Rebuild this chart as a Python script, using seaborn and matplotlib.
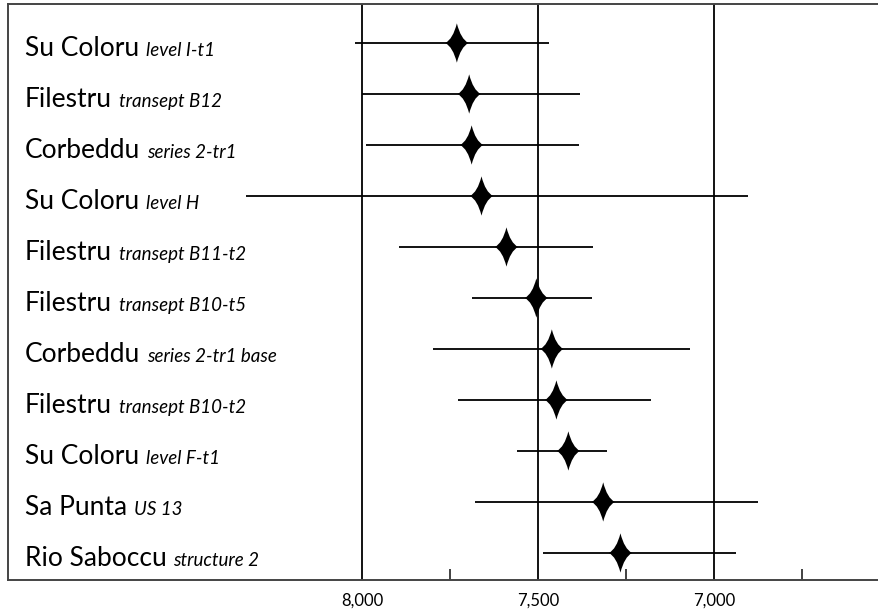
import numpy as np
import matplotlib
matplotlib.use("Agg")
import matplotlib.pyplot as plt
import matplotlib.transforms as mtransforms
from matplotlib.path import Path
import seaborn as sns

# ── data ──────────────────────────────────────────────
sites = [
    "Su Coloru", "Filestru", "Corbeddu", "Su Coloru", "Filestru", "Filestru",
    "Corbeddu", "Filestru", "Su Coloru", "Sa Punta", "Rio Saboccu",
]
contexts = [
    "level I-t1", "transept B12", "series 2-tr1", "level H", "transept B11-t2",
    "transept B10-t5", "series 2-tr1 base", "transept B10-t2", "level F-t1",
    "US 13", "structure 2",
]
median_bp = [7731, 7696, 7689, 7661, 7590, 7505, 7461, 7448, 7414, 7315, 7266]
range_old = [8022, 8000, 7990, 8331, 7896, 7689, 7799, 7729, 7559, 7680, 7487]
range_young = [7470, 7382, 7385, 6902, 7345, 7346, 7067, 7178, 7303, 6875, 6937]

major_ticks = [8000, 7500, 7000]
minor_ticks = [7750, 7250, 6750]
tick_labels = ["8,000", "7,500", "7,000"]

# ── style ─────────────────────────────────────────────
sns.set_theme(style="white")
plt.rcParams["font.family"] = ["Lato", "DejaVu Sans"]

# four-pointed star marker (concave sides)
w, c = 0.59, 0.2
star = Path(
    [(0, 1), (c, c), (w, 0), (c, -c), (0, -1), (-c, -c), (-w, 0), (-c, c), (0, 1), (0, 1)],
    [Path.MOVETO, Path.CURVE3, Path.CURVE3, Path.CURVE3, Path.CURVE3,
     Path.CURVE3, Path.CURVE3, Path.CURVE3, Path.CURVE3, Path.CLOSEPOLY],
)

fig = plt.figure(figsize=(8.79, 6.11), dpi=100)
ax = fig.add_axes([8 / 879, 1 - 580 / 611, 1 - 8 / 879, (580 - 4) / 611])

ypos = np.arange(len(sites))

for x in major_ticks:
    ax.axvline(x, color="black", lw=1.3, zorder=1)

ax.hlines(ypos, range_old, range_young, color="black", lw=1.3, zorder=2)
sns.scatterplot(x=median_bp, y=ypos, marker=star, s=800, color="black",
                edgecolor="none", ax=ax, zorder=3, legend=False)

ax.set_xlim(9007, 6531)
ax.set_ylim(10.53, -0.765)

ax.set_xticks(major_ticks)
ax.set_xticklabels(tick_labels, fontsize=12)
ax.set_xticks(minor_ticks, minor=True)
ax.tick_params(axis="x", which="major", direction="in", length=0, pad=9, colors="black")
ax.tick_params(axis="x", which="minor", direction="in", length=8, width=1.3,
               color="#333333", bottom=True)
ax.set_yticks([])
ax.set_xlabel("")
ax.set_ylabel("")

for side in ["left", "top", "bottom"]:
    ax.spines[side].set_visible(True)
    ax.spines[side].set_color("#444444")
    ax.spines[side].set_linewidth(1.4)
ax.spines["right"].set_visible(False)

# labels: site name + italic context
trans = mtransforms.blended_transform_factory(ax.transAxes, ax.transData)
name_texts = []
for y, name in zip(ypos, sites):
    t = ax.text(0.019, y + 0.25, name, transform=trans, fontsize=19,
                va="baseline", ha="left", color="black")
    name_texts.append(t)

fig.canvas.draw()
renderer = fig.canvas.get_renderer()
inv = ax.transAxes.inverted()
for t, y, ctx in zip(name_texts, ypos, contexts):
    bb = t.get_window_extent(renderer)
    xa = inv.transform((bb.x1 + 7, 0))[0]
    ax.text(xa, y + 0.25, ctx, transform=trans, fontsize=13.5, style="italic",
            va="baseline", ha="left", color="black")

fig.savefig("out.png", dpi=100)
